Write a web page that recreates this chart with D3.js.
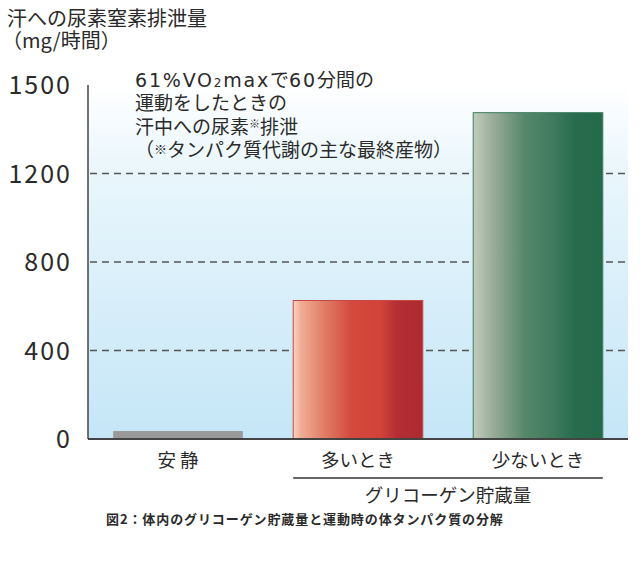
<!DOCTYPE html>
<html><head><meta charset="utf-8">
<script src="https://cdn.jsdelivr.net/npm/d3@7"></script>
<style>body{margin:0;background:#fff}svg{display:block}text{font-family:"Noto Sans CJK JP","Noto Sans",sans-serif;fill:#2a2a2a}.lat{font-family:"DejaVu Sans",sans-serif}</style>
</head><body><svg id="c" width="640" height="564"></svg>
<script>
const categories = ["安 静", "多いとき", "少ないとき"];
const values = [36, 626, 1475];
const tickValues = [0, 400, 800, 1200, 1600];
const tickLabels = ["0", "400", "800", "1200", "1500"];
const titleLines = ["汗への尿素窒素排泄量", "（mg/時間）"];
const groupLabel = "グリコーゲン貯蔵量";
const caption = "図2：体内のグリコーゲン貯蔵量と運動時の体タンパク質の分解";

const svg = d3.select("#c");
const L = 88, R = 628, T = 85, B = 439;
const y = d3.scaleLinear().domain([0, 1600]).range([B, T]);
const x = d3.scaleBand().domain(categories).range([L, R]).paddingInner(0.28).paddingOuter(0.14);

const defs = svg.append("defs");
const bg = defs.append("linearGradient").attr("id","bg").attr("x1",0).attr("y1",0).attr("x2",0).attr("y2",1);
bg.append("stop").attr("offset",0).attr("stop-color","#ffffff");
bg.append("stop").attr("offset",0.25).attr("stop-color","#e9f6fc");
bg.append("stop").attr("offset",1).attr("stop-color","#c5e6f7");
const rg = defs.append("linearGradient").attr("id","red");
[[0,"#fcd3c0"],[0.06,"#f1ad96"],[0.25,"#df7b62"],[0.45,"#d4493d"],[0.68,"#d14238"],[0.8,"#b42e34"],[1,"#ad2a31"]]
  .forEach(s=>rg.append("stop").attr("offset",s[0]).attr("stop-color",s[1]));
const gg = defs.append("linearGradient").attr("id","green");
[[0,"#c3ccbb"],[0.15,"#9aad9a"],[0.4,"#55876a"],[0.62,"#3f7a5e"],[0.78,"#286c4d"],[1,"#226a4a"]]
  .forEach(s=>gg.append("stop").attr("offset",s[0]).attr("stop-color",s[1]));

svg.append("rect").attr("x",L).attr("y",T).attr("width",R-L).attr("height",B-T).attr("fill","url(#bg)");

// gridlines
svg.append("g").selectAll("line").data(tickValues.filter(v=>v>0 && v<1600)).join("line")
  .attr("x1",L+2).attr("x2",R).attr("y1",d=>y(d)).attr("y2",d=>y(d))
  .attr("stroke","#555").attr("stroke-width",1.5).attr("stroke-dasharray","7,5");

// bars
const fills = ["#999999","url(#red)","url(#green)"];
const strokes = ["none","#c8484a","#3f7e63"];
svg.append("g").selectAll("rect").data(values).join("rect")
  .attr("x",(d,i)=>x(categories[i])).attr("width",x.bandwidth())
  .attr("y",d=>y(d)).attr("height",d=>B-y(d))
  .attr("fill",(d,i)=>fills[i]).attr("stroke",(d,i)=>strokes[i]).attr("stroke-width",1);

// axes lines
svg.append("line").attr("x1",L).attr("x2",L).attr("y1",T).attr("y2",B).attr("stroke","#444").attr("stroke-width",1.5);
svg.append("line").attr("x1",L).attr("x2",R).attr("y1",B).attr("y2",B).attr("stroke","#444").attr("stroke-width",2);

// y tick labels
svg.append("g").selectAll("text").data(tickValues).join("text")
  .attr("x",72).attr("y",d=>y(d)).attr("dy","0.36em").attr("text-anchor","end")
  .attr("font-size",25).attr("letter-spacing",2).text((d,i)=>tickLabels[i]);

// titles
svg.append("g").selectAll("text").data(titleLines).join("text")
  .attr("x",(d,i)=>i?2:7).attr("y",(d,i)=>26+i*22).attr("font-size",20).text(d=>d);

// annotation
const ann = svg.append("text").attr("font-size",19).attr("x",135);
const l1 = ann.append("tspan").attr("x",135).attr("y",87);
l1.append("tspan").attr("class","lat").attr("letter-spacing",1.8).text("61%VO");
l1.append("tspan").attr("class","lat").attr("font-size",12).attr("letter-spacing",1.8).text("2");
l1.append("tspan").attr("class","lat").attr("letter-spacing",1.8).text("max");
l1.append("tspan").text("で");
l1.append("tspan").attr("class","lat").attr("letter-spacing",1.8).text("60");
l1.append("tspan").text("分間の");
ann.append("tspan").attr("x",135).attr("y",110).text("運動をしたときの");
const l3 = ann.append("tspan").attr("x",135).attr("y",134);
l3.append("tspan").text("汗中への尿素");
l3.append("tspan").attr("font-size",11).attr("dy",-6).text("※");
l3.append("tspan").attr("dy",6).text("排泄");
const l4 = ann.append("tspan").attr("x",135).attr("y",157);
l4.append("tspan").text("（");
l4.append("tspan").attr("font-size",13).attr("dy",-3).text("※");
l4.append("tspan").attr("dy",3).text("タンパク質代謝の主な最終産物）");

// category labels
svg.append("g").selectAll("text").data(categories).join("text")
  .attr("x",d=>x(d)+x.bandwidth()/2).attr("y",467).attr("text-anchor","middle")
  .attr("font-size",18.5).text(d=>d);

// group bracket
svg.append("line").attr("x1",x(categories[1])).attr("x2",x(categories[2])+x.bandwidth())
  .attr("y1",478).attr("y2",478).attr("stroke","#333").attr("stroke-width",1.5);
svg.append("text").attr("x",(x(categories[1])+x(categories[2])+x.bandwidth())/2).attr("y",502)
  .attr("text-anchor","middle").attr("font-size",18.5).text(groupLabel);

// caption
svg.append("text").attr("x",106).attr("y",524).attr("font-size",13).attr("font-weight","bold")
  .attr("letter-spacing",0.9).attr("fill","#333").text(caption);
</script></body></html>
